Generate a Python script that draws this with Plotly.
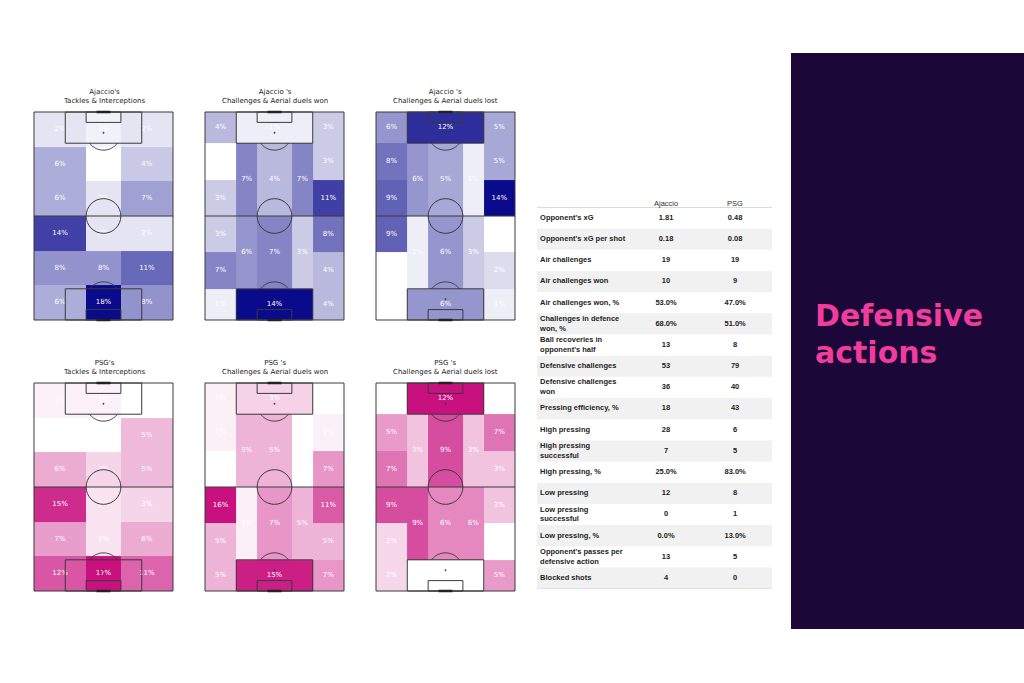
import numpy as np
import plotly.graph_objects as go

W, H = 1024, 683

# ---------------- data ----------------
TEAMS = ["Ajaccio", "PSG"]
TITLE_TEMPLATES = ["{}'s<br>Tackles & Interceptions",
                   "{} 's<br>Challenges & Aerial duels won",
                   "{} 's<br>Challenges & Aerial duels lost"]

# Tackles & interceptions: 6 rows (top -> bottom) x 3 lanes (left -> right), in %
AJACCIO_TACKLES = [[2, 1, 2],
                   [6, 0, 4],
                   [6, 2, 7],
                   [14, 2, 2],
                   [8, 8, 11],
                   [6, 18, 8]]
PSG_TACKLES = [[1, 1, 0],
               [0, 0, 5],
               [6, 3, 5],
               [15, 2, 3],
               [7, 2, 6],
               [12, 17, 11]]

# Positional zones (values in %, order of ZONE_ORDER)
ZONE_ORDER = ["L1", "BoxTop", "R1", "L2", "L3", "R2", "R3", "I1a", "I2a", "I3a",
              "L4", "L5", "R4", "R5", "I1b", "I2b", "I3b", "L6", "BoxBot", "R6"]
AJACCIO_DUELS_WON = [4, 1, 3, 0, 3, 3, 11, 7, 4, 7, 3, 7, 8, 4, 6, 7, 3, 1, 14, 4]
AJACCIO_DUELS_LOST = [6, 12, 5, 8, 9, 5, 14, 6, 5, 1, 9, 0, 0, 2, 1, 6, 3, 0, 6, 1]
PSG_DUELS_WON = [1, 3, 0, 1, 0, 1, 7, 5, 5, 0, 16, 5, 11, 5, 1, 7, 5, 5, 15, 7]
PSG_DUELS_LOST = [0, 12, 0, 5, 7, 7, 3, 3, 9, 3, 9, 2, 3, 0, 9, 6, 6, 2, 0, 5]

# Stats table
TABLE_HEADER = ["Ajaccio", "PSG"]
TABLE_LABELS = ["Opponent's xG", "Opponent's xG per shot", "Air challenges",
                "Air challenges won", "Air challenges won, %",
                "Challenges in defence<br>won, %", "Ball recoveries in<br>opponent's half",
                "Defensive challenges", "Defensive challenges<br>won",
                "Pressing efficiency, %", "High pressing", "High pressing<br>successful",
                "High pressing, %", "Low pressing", "Low pressing<br>successful",
                "Low pressing, %", "Opponent's passes per<br>defensive action", "Blocked shots"]
TABLE_AJACCIO = ["1.81", "0.18", "19", "10", "53.0%", "68.0%", "13", "53", "36",
                 "18", "28", "7", "25.0%", "12", "0", "0.0%", "13", "4"]
TABLE_PSG = ["0.48", "0.08", "19", "9", "47.0%", "51.0%", "8", "79", "40",
             "43", "6", "5", "83.0%", "8", "1", "13.0%", "5", "0"]

SIDE_TITLE = ["Defensive", "actions"]

# ---------------- structure / style ----------------
X_EDGES_T = [0, 30, 50, 80]
Y_EDGES_T = [0, 20, 40, 60, 80, 100, 120]
X_EDGES_P = [0, 18, 30, 50, 62, 80]
Y_EDGES_P = [0, 18, 39, 60, 81, 102, 120]
ZONE_SPANS = {  # (row0, row1, col0, col1) on the positional edges
    "L1": (0, 1, 0, 1), "BoxTop": (0, 1, 1, 4), "R1": (0, 1, 4, 5),
    "L2": (1, 2, 0, 1), "L3": (2, 3, 0, 1), "R2": (1, 2, 4, 5), "R3": (2, 3, 4, 5),
    "I1a": (1, 3, 1, 2), "I2a": (1, 3, 2, 3), "I3a": (1, 3, 3, 4),
    "L4": (3, 4, 0, 1), "L5": (4, 5, 0, 1), "R4": (3, 4, 4, 5), "R5": (4, 5, 4, 5),
    "I1b": (3, 5, 1, 2), "I2b": (3, 5, 2, 3), "I3b": (3, 5, 3, 4),
    "L6": (5, 6, 0, 1), "BoxBot": (5, 6, 1, 4), "R6": (5, 6, 4, 5),
}
COLORSCALES = [[[0, "#ffffff"], [1, "#0a0a8c"]],
               [[0, "#ffffff"], [1, "#c8107e"]]]
PITCH_LEFTS = [34, 205, 376]
PITCH_TOPS = [112, 383]
PW, PH = 139, 208
PAD = 2.0
LINE_COL = "#3a3a3a"
CELL_FONT = dict(family="DejaVu Sans", size=7, color="white")

fig = go.Figure()
layout = {}
shapes = []
annotations = []


def arc_path(cx, cy, r, t0, t1, n=40):
    t = np.linspace(t0, t1, n)
    xs = cx + r * np.cos(t)
    ys = cy + r * np.sin(t)
    return "M " + " L ".join(f"{a:.3f},{b:.3f}" for a, b in zip(xs, ys))


def pitch_shapes(xr, yr):
    s = []
    line = dict(color=LINE_COL, width=1)
    base = dict(xref=xr, yref=yr, layer="above", line=line)
    s.append(dict(type="rect", x0=0, x1=80, y0=0, y1=120, **base))
    s.append(dict(type="line", x0=0, x1=80, y0=60, y1=60, **base))
    s.append(dict(type="circle", x0=30, x1=50, y0=50, y1=70, **base))
    for (y0, y1, s0, s1) in [(0, 18, 0, 6), (120, 102, 120, 114)]:
        s.append(dict(type="rect", x0=18, x1=62, y0=y0, y1=y1, **base))
        s.append(dict(type="rect", x0=30, x1=50, y0=s0, y1=s1, **base))
    a = np.arcsin(0.6)
    s.append(dict(type="path", path=arc_path(40, 12, 10, a, np.pi - a), **base))
    s.append(dict(type="path", path=arc_path(40, 108, 10, np.pi + a, 2 * np.pi - a), **base))
    for py in (12, 108):
        s.append(dict(type="circle", x0=39.6, x1=40.4, y0=py - 0.4, y1=py + 0.4,
                      xref=xr, yref=yr, layer="above", fillcolor=LINE_COL,
                      line=dict(color=LINE_COL, width=0.5)))
    for gy in (0, 120):
        s.append(dict(type="line", x0=36, x1=44, y0=gy, y1=gy, xref=xr, yref=yr,
                      layer="above", line=dict(color="#222222", width=2.5)))
    return s


panels = [[("grid", AJACCIO_TACKLES), ("zones", AJACCIO_DUELS_WON), ("zones", AJACCIO_DUELS_LOST)],
          [("grid", PSG_TACKLES), ("zones", PSG_DUELS_WON), ("zones", PSG_DUELS_LOST)]]

idx = 0
for r, team in enumerate(TEAMS):
    for c in range(3):
        idx += 1
        sfx = "" if idx == 1 else str(idx)
        xr, yr = "x" + sfx, "y" + sfx
        kind, vals = panels[r][c]
        if kind == "grid":
            z = np.array(vals, dtype=float)
            xe, ye = X_EDGES_T, Y_EDGES_T
            lx, ly, lt = [], [], []
            for i in range(len(ye) - 1):
                for j in range(len(xe) - 1):
                    lx.append((xe[j] + xe[j + 1]) / 2)
                    ly.append((ye[i] + ye[i + 1]) / 2)
                    lt.append(f"{vals[i][j]}%")
        else:
            xe, ye = X_EDGES_P, Y_EDGES_P
            z = np.full((len(ye) - 1, len(xe) - 1), np.nan)
            lx, ly, lt = [], [], []
            for name, v in zip(ZONE_ORDER, vals):
                r0, r1, c0, c1 = ZONE_SPANS[name]
                z[r0:r1, c0:c1] = v
                lx.append((xe[c0] + xe[c1]) / 2)
                ly.append((ye[r0] + ye[r1]) / 2)
                lt.append(f"{v}%")
        fig.add_trace(go.Heatmap(z=z, x=xe, y=ye, colorscale=COLORSCALES[r],
                                 zmin=0, zmax=float(np.nanmax(z)), showscale=False,
                                 hoverinfo="skip", xaxis=xr, yaxis=yr))
        fig.add_trace(go.Scatter(x=lx, y=ly, text=lt, mode="text", textfont=CELL_FONT,
                                 hoverinfo="skip", showlegend=False, xaxis=xr, yaxis=yr))
        L, T = PITCH_LEFTS[c], PITCH_TOPS[r]
        sx, sy = PW / 80, PH / 120
        layout["xaxis" + sfx] = dict(domain=[(L - PAD * sx) / W, (L + PW + PAD * sx) / W],
                                     range=[-PAD, 80 + PAD], visible=False, fixedrange=True,
                                     anchor=yr)
        layout["yaxis" + sfx] = dict(domain=[1 - (T + PH + PAD * sy) / H, 1 - (T - PAD * sy) / H],
                                     range=[120 + PAD, -PAD], visible=False, fixedrange=True,
                                     anchor=xr)
        shapes += pitch_shapes(xr, yr)
        annotations.append(dict(text=TITLE_TEMPLATES[c].format(team), xref="paper", yref="paper",
                                x=(L + PW / 2) / W, y=1 - (T - 16) / H, xanchor="center",
                                yanchor="middle", showarrow=False,
                                font=dict(family="DejaVu Sans", size=7, color="#222222")))

# ---------------- table ----------------
idx += 1
tx, ty = "x" + str(idx), "y" + str(idx)
ROW_H = 21.18
ROW0 = 218.0
n = len(TABLE_LABELS)
layout["xaxis" + str(idx)] = dict(domain=[537 / W, 772 / W], range=[0, 1], visible=False,
                                  fixedrange=True, anchor=ty)
layout["yaxis" + str(idx)] = dict(domain=[1 - (ROW0 + (n - 0.5) * ROW_H) / H,
                                          1 - (ROW0 - 1.5 * ROW_H) / H],
                                  range=[n - 0.5, -1.5], visible=False, fixedrange=True,
                                  anchor=tx)
for i in range(n):
    if i % 2 == 1:
        shapes.append(dict(type="rect", xref=tx, yref=ty, x0=0, x1=1, y0=i - 0.5, y1=i + 0.5,
                           fillcolor="#f1f1f1", line=dict(width=0), layer="below"))
shapes.append(dict(type="line", xref=tx, yref=ty, x0=0, x1=1, y0=-0.5, y1=-0.5,
                   line=dict(color="#d8d8d8", width=1)))
shapes.append(dict(type="line", xref=tx, yref=ty, x0=0, x1=1, y0=n - 0.5, y1=n - 0.5,
                   line=dict(color="#d8d8d8", width=1)))
COL_X = [0.549, 0.843]
hdr_y = (204 - ROW0) / ROW_H
for cx, h in zip(COL_X, TABLE_HEADER):
    annotations.append(dict(text=h, xref=tx, yref=ty, x=cx, y=hdr_y, showarrow=False,
                            xanchor="center", yanchor="middle",
                            font=dict(family="Liberation Sans", size=7.5, color="#333333")))
fig.add_trace(go.Scatter(x=[0.013] * n, y=list(range(n)),
                         text=[f"<b>{t}</b>" for t in TABLE_LABELS], mode="text",
                         textposition="middle right", hoverinfo="skip", showlegend=False,
                         textfont=dict(family="Liberation Sans", size=7.5, color="#222222"),
                         xaxis=tx, yaxis=ty))
for cx, col in zip(COL_X, [TABLE_AJACCIO, TABLE_PSG]):
    fig.add_trace(go.Scatter(x=[cx] * n, y=list(range(n)), text=[f"<b>{t}</b>" for t in col],
                             mode="text", textposition="middle center", hoverinfo="skip",
                             showlegend=False,
                             textfont=dict(family="Liberation Sans", size=7.5, color="#222222"),
                             xaxis=tx, yaxis=ty))

# ---------------- side panel ----------------
shapes.append(dict(type="rect", xref="paper", yref="paper", x0=791 / W, x1=1,
                   y0=1 - 629 / H, y1=1 - 53 / H, fillcolor="#1b0838", line=dict(width=0),
                   layer="below"))
for k, (txt, yp) in enumerate(zip(SIDE_TITLE, [315, 352])):
    annotations.append(dict(text=f"<b>{txt}</b>", xref="paper", yref="paper", x=813 / W,
                            y=1 - yp / H, xanchor="left", yanchor="middle", showarrow=False,
                            font=dict(family="DejaVu Sans", size=30, color="#f03c9c")))

fig.update_layout(width=W, height=H, margin=dict(l=0, r=0, t=0, b=0),
                  paper_bgcolor="white", plot_bgcolor="rgba(0,0,0,0)",
                  showlegend=False, shapes=shapes, annotations=annotations, **layout)
fig.write_html("out.html", config=dict(displayModeBar=False))
